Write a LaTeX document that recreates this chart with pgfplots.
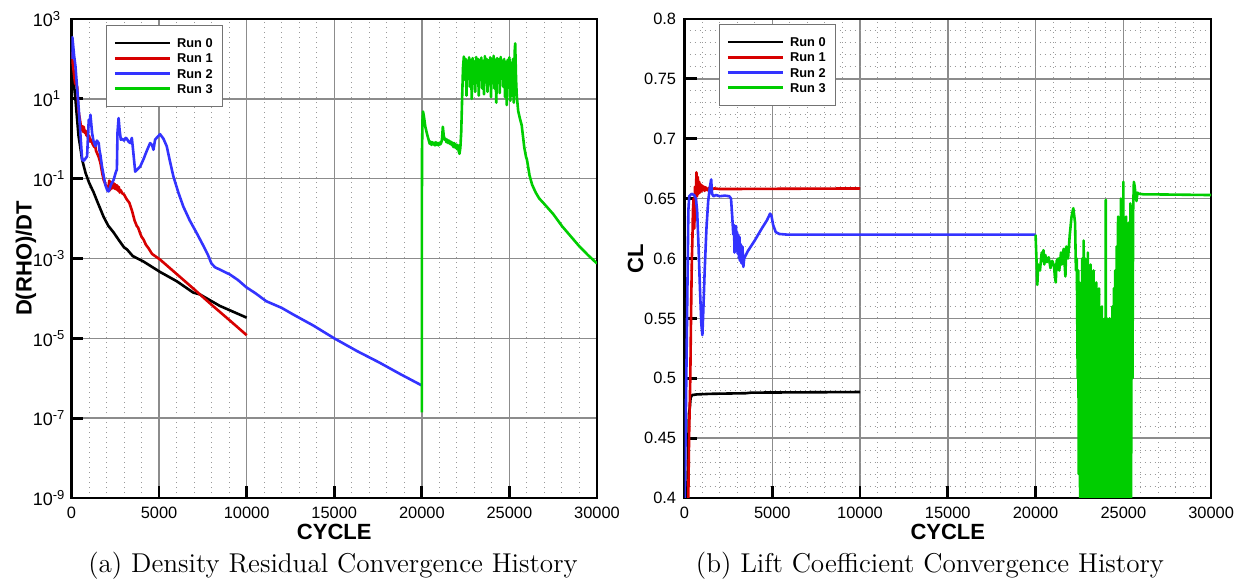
\documentclass[border=0pt]{standalone}
\usepackage{fontspec}
\usepackage{pgfplots}
\pgfplotsset{compat=1.18}
\newfontfamily\arial{Liberation Sans}
\definecolor{runred}{RGB}{215,0,0}
\definecolor{runblue}{RGB}{51,51,255}
\definecolor{rungreen}{RGB}{0,205,0}
% power-of-ten tick label, the exponent hangs to the right of "10"
\newcommand{\dec}[1]{10\rlap{\raisebox{3.4pt}{\fontsize{6.5}{7}\selectfont #1}}}

\pgfplotsset{
  convstyle/.style={
    scale only axis,
    height=239.5pt,
    xmin=0, xmax=30000,
    scaled x ticks=false,
    xtick={0,5000,10000,15000,20000,25000,30000},
    xticklabels={0,5000,10000,15000,20000,25000,30000},
    minor x tick num=4,
    xmajorgrids, xminorgrids, ymajorgrids,
    major grid style={draw=black!45, line width=0.7pt},
    minor grid style={draw=black!40, line width=0.5pt, dotted},
    tick align=inside,
    tick pos=left,
    major tick length=6pt,
    minor tick length=0pt,
    major tick style={black, line width=1.4pt},
    axis line style={line width=1.4pt},
    xticklabel style={font=\arial\fontsize{8.2}{9}\selectfont, anchor=base, yshift=-10.1pt, inner sep=0pt},
    xlabel={CYCLE},
    xlabel style={font=\arial\bfseries\fontsize{11}{12}\selectfont, at={(axis description cs:0.5,-0.086)}, anchor=base, inner sep=0pt},
    ylabel style={font=\arial\bfseries\fontsize{11}{12}\selectfont, anchor=base, inner sep=0pt},
    legend cell align=left,
    legend image code/.code={\draw[#1, line width=1.3pt] (0pt,0pt) -- (27.5pt,0pt);},
    legend style={anchor=north west, draw=black!55, line width=0.5pt, fill=white,
      inner xsep=3.5pt, inner ysep=5pt,
      font=\arial\bfseries\fontsize{6.4}{7}\selectfont,
      nodes={inner sep=1.5pt, text height=4.6pt, text depth=0pt},
      /tikz/every odd column/.append style={column sep=1.5pt}},
    every axis plot/.append style={line width=1.3pt, line join=round},
  }
}

\begin{document}
\begin{tikzpicture}
\useasboundingbox (0,0) rectangle (619.5pt,289.5pt);

% ---------------- density residual ----------------
\begin{axis}[convstyle,
  at={(35.75pt,40.5pt)}, width=262.75pt,
  ymode=log, ymin=1e-9, ymax=1e3,
  ytick={1e-9,1e-7,1e-5,1e-3,1e-1,1e1,1e3},
  yticklabels={\dec{-9},\dec{-7},\dec{-5},\dec{-3},\dec{-1},\dec{1},\dec{3}},
  yticklabel style={font=\arial\fontsize{9}{10}\selectfont, anchor=east, inner sep=0pt, xshift=-9.1pt},
  ylabel={D(RHO)/DT},
  ylabel style={at={(axis description cs:-0.0757,0.5)}},
  legend style={at={(0.0657,0.9875)}},
]
\addplot[black] coordinates {
(0,60) (100,35) (227,9.5) (400,1.2) (608,0.3) (800,0.14) (1000,0.08) (1267,0.045)
(1500,0.025) (1836,0.011) (2100,0.0066) (2403,0.0045) (2700,0.0029) (3000,0.0019)
(3160,0.0017) (3500,0.00115) (4110,0.00084) (5057,0.00046) (6005,0.00027)
(6950,0.00014) (7330,0.000126) (8466,6.5e-5) (10000,3.3e-5)};
\addlegendentry{Run 0}

\addplot[runred] coordinates {
(0,150) (100,60) (200,25) (324,20) (400,5) (511,2.5) (560,1.7) (600,2.1) (650,1.5)
(700,2.0) (750,1.4) (800,1.6) (850,1.2) (900,1.4) (950,1.0) (1000,1.2) (1080,0.85)
(1150,0.95) (1200,0.75) (1300,0.62) (1350,0.7) (1400,0.5) (1458,0.44) (1550,0.35)
(1650,0.25) (1750,0.14) (1836,0.093) (1950,0.07) (2050,0.06) (2120,0.052)
(2150,0.09) (2180,0.05) (2220,0.085) (2260,0.055) (2300,0.08) (2350,0.058)
(2400,0.078) (2450,0.056) (2500,0.072) (2550,0.054) (2600,0.068) (2650,0.05)
(2700,0.062) (2750,0.045) (2800,0.052) (2900,0.043) (3000,0.04) (3160,0.03)
(3300,0.025) (3450,0.016) (3600,0.009) (3727,0.0065) (3800,0.006) (3900,0.0045)
(4000,0.0035) (4110,0.003) (4250,0.0022) (4400,0.0018) (4600,0.0013)
(5057,0.00094) (6000,0.00041) (7000,0.00017) (8000,6.9e-5) (9000,2.9e-5) (10000,1.2e-5)};
\addlegendentry{Run 1}

\addplot[runblue] coordinates {
(0,100) (50,350) (150,120) (227,65) (417,5.3) (500,1.5) (606,0.3) (700,0.28)
(800,0.32) (890,0.36) (985,3.0) (1030,2.2) (1080,4.0) (1175,1.4) (1250,0.9)
(1364,0.65) (1450,0.9) (1553,0.78) (1600,0.5) (1648,0.4) (1742,0.2) (1932,0.07)
(2050,0.05) (2120,0.048) (2250,0.07) (2403,0.093) (2540,0.15) (2591,0.17)
(2625,1.4) (2688,3.3) (2750,1.6) (2816,0.95) (2900,1.0) (3000,0.9) (3100,1.05)
(3160,1.0) (3250,0.85) (3352,0.78) (3445,1.05) (3520,0.5) (3636,0.15) (3760,0.17)
(3920,0.2) (4100,0.3) (4300,0.5) (4489,0.78) (4600,0.7) (4678,0.53) (4773,0.95)
(4900,1.1) (5057,1.3) (5250,1.0) (5436,0.65) (5600,0.3) (5814,0.115) (6100,0.045)
(6384,0.02) (6750,0.009) (7140,0.0044) (7500,0.0022) (7800,0.0012) (7990,0.00075)
(8200,0.0006) (8466,0.00053) (8700,0.00047) (9034,0.0004) (9500,0.00029)
(9983,0.00019) (10500,0.000135) (11120,8.5e-5) (12000,5.8e-5) (12638,4e-5)
(13800,2.1e-5) (15000,1e-5) (16300,4.8e-6) (17557,2.5e-6) (18800,1.25e-6) (20000,6.6e-7)};
\addlegendentry{Run 2}

\addplot[rungreen] coordinates {
(20000,1.4e-7) (20005,0.02) (20010,0.5) (20040,3) (20070,4.8) (20120,3.6)
(20200,2.0) (20300,1.3) (20400,0.9) (20450,0.75) (20500,0.85) (20550,0.7)
(20600,0.82) (20650,0.72) (20700,0.8) (20750,0.68) (20800,0.82) (20850,0.7)
(20900,0.78) (20950,0.68) (21000,0.8) (21050,0.72) (21100,0.78) (21150,0.95)
(21200,2.0) (21250,1.2) (21300,0.95) (21350,1.0) (21400,0.82) (21450,0.95)
(21500,0.78) (21550,0.9) (21600,0.75) (21650,0.85) (21700,0.7) (21750,0.8)
(21800,0.62) (21850,0.78) (21900,0.6) (21950,0.72) (22000,0.55) (22050,0.7)
(22100,0.5) (22150,0.42) (22200,0.6) (22250,1.5) (22300,10) (22350,60)
(22400,115) (22450,30) (22500,100) (22550,12) (22600,90) (22650,40) (22700,110)
(22750,20) (22800,95) (22850,10) (22900,105) (22950,35) (23000,85) (23050,15)
(23100,112) (23150,25) (23200,100) (23250,12) (23300,95) (23350,45) (23400,108)
(23450,18) (23500,90) (23550,13) (23600,118) (23650,30) (23700,100) (23750,15)
(23800,92) (23850,40) (23900,110) (23950,11) (24000,100) (24050,25) (24100,120)
(24150,18) (24200,95) (24250,8) (24300,105) (24350,30) (24400,98) (24450,14)
(24500,112) (24550,35) (24600,90) (24650,20) (24700,100) (24750,11) (24800,85)
(24850,7) (24900,95) (24950,20) (25000,110) (25050,9) (25100,80) (25150,12)
(25200,100) (25250,8) (25300,150) (25330,245) (25380,30) (25420,12) (25500,5)
(25600,3.2) (25700,2.2) (25850,0.6) (25950,0.35) (26000,0.3) (26150,0.12)
(26300,0.07) (26500,0.045) (26700,0.032) (27000,0.023) (27500,0.013) (28000,0.0065)
(28500,0.0036) (29000,0.002) (29500,0.0012) (30000,0.00075)};
\addlegendentry{Run 3}
\end{axis}

% ---------------- lift coefficient ----------------
\begin{axis}[convstyle,
  at={(342.25pt,40.5pt)}, width=263.3pt,
  ymin=0.4, ymax=0.8,
  ytick={0.4,0.45,0.5,0.55,0.6,0.65,0.7,0.75,0.8},
  yticklabels={0.4,0.45,0.5,0.55,0.6,0.65,0.7,0.75,0.8},
  minor y tick num=4, yminorgrids,
  yticklabel style={font=\arial\fontsize{8.2}{9}\selectfont, anchor=east, inner sep=0pt, xshift=-4pt},
  ylabel={CL},
  ylabel style={at={(axis description cs:-0.0784,0.5)}},
  legend style={at={(0.0656,0.9896)}},
]
\addplot[black] coordinates {
(0,0.40) (150,0.40) (200,0.43) (250,0.47) (300,0.475) (350,0.484) (450,0.486)
(700,0.4865) (1500,0.487) (3500,0.4875) (3800,0.488) (10000,0.4885)};
\addlegendentry{Run 0}

\addplot[runred] coordinates {
(200,0.38) (260,0.45) (330,0.5) (380,0.56) (420,0.6) (450,0.615) (480,0.64)
(520,0.65) (560,0.625) (600,0.66) (640,0.645) (680,0.672) (720,0.652) (760,0.668)
(800,0.654) (840,0.664) (880,0.655) (920,0.662) (960,0.656) (1000,0.661)
(1050,0.657) (1100,0.66) (1150,0.6565) (1200,0.6595) (1300,0.657) (1400,0.659)
(1500,0.6575) (1700,0.6585) (2000,0.658) (10000,0.6585)};
\addlegendentry{Run 1}

\addplot[runblue] coordinates {
(0,0.38) (60,0.45) (120,0.52) (170,0.58) (220,0.64) (270,0.652) (400,0.654)
(550,0.653) (650,0.65) (720,0.64) (800,0.61) (880,0.575) (960,0.545) (1020,0.536)
(1080,0.56) (1150,0.59) (1250,0.625) (1350,0.648) (1450,0.66) (1520,0.666)
(1570,0.654) (1650,0.652) (1800,0.653) (2000,0.652) (2300,0.6525) (2550,0.652)
(2650,0.65) (2720,0.635) (2780,0.62) (2820,0.628) (2850,0.605) (2880,0.625)
(2910,0.61) (2940,0.627) (2970,0.606) (3000,0.622) (3030,0.604) (3060,0.62)
(3100,0.6) (3130,0.618) (3160,0.598) (3200,0.612) (3250,0.596) (3300,0.61)
(3353,0.593) (3400,0.6) (3600,0.606) (4000,0.615) (4400,0.625) (4700,0.632)
(4875,0.6375) (4950,0.636) (5050,0.628) (5200,0.622) (5400,0.6205) (5800,0.62)
(20000,0.62)};
\addlegendentry{Run 2}

\addplot[rungreen] coordinates {
(20000,0.62) (20050,0.60) (20100,0.578) (20150,0.595) (20250,0.59) (20350,0.605)
(20400,0.598) (20450,0.607) (20500,0.595) (20550,0.603) (20650,0.597) (20750,0.601)
(20850,0.592) (20950,0.598) (21050,0.594) (21100,0.585) (21150,0.58) (21200,0.598)
(21300,0.60) (21350,0.59) (21450,0.605) (21500,0.595) (21600,0.608) (21700,0.585)
(21750,0.61) (21850,0.6) (21950,0.62) (22050,0.635) (22150,0.642) (22250,0.63)
(22300,0.59) (22350,0.60) (22400,0.50) (22430,0.59) (22460,0.42) (22500,0.58)
(22540,0.38) (22580,0.56) (22620,0.45) (22660,0.60) (22700,0.39) (22740,0.615)
(22780,0.47) (22820,0.60) (22860,0.37) (22900,0.59) (22940,0.44) (22980,0.605)
(23020,0.38) (23060,0.58) (23100,0.46) (23140,0.595) (23180,0.36) (23220,0.57)
(23260,0.43) (23300,0.59) (23340,0.37) (23380,0.575) (23420,0.48) (23460,0.58)
(23500,0.35) (23540,0.56) (23580,0.44) (23620,0.575) (23660,0.36) (23700,0.555)
(23740,0.42) (23780,0.56) (23820,0.35) (23860,0.545) (23900,0.45) (23940,0.55)
(23980,0.38) (24000,0.649) (24020,0.40) (24060,0.55) (24100,0.36) (24140,0.545)
(24180,0.43) (24220,0.55) (24260,0.35) (24300,0.54) (24340,0.44) (24380,0.56)
(24420,0.36) (24460,0.575) (24500,0.42) (24540,0.59) (24580,0.35) (24620,0.61)
(24660,0.45) (24700,0.635) (24740,0.37) (24780,0.62) (24820,0.43) (24860,0.65)
(24900,0.38) (24940,0.64) (24980,0.45) (25000,0.664) (25040,0.40) (25080,0.62)
(25120,0.38) (25160,0.635) (25200,0.42) (25240,0.60) (25280,0.37) (25320,0.63)
(25360,0.45) (25400,0.646) (25440,0.39) (25480,0.62) (25520,0.50) (25560,0.64)
(25600,0.664) (25650,0.66) (25700,0.652) (25750,0.648) (25800,0.655) (25900,0.654)
(26200,0.6535) (27000,0.6535) (30000,0.653)};
\addlegendentry{Run 3}
\end{axis}

\node[anchor=base, font=\fontsize{13.6}{15}\selectfont] at (166.5pt,3.4pt) {(a) Density Residual Convergence History};
\node[anchor=base, font=\fontsize{13.6}{15}\selectfont] at (465pt,3.4pt) {(b) Lift Coefficient Convergence History};
\end{tikzpicture}
\end{document}
